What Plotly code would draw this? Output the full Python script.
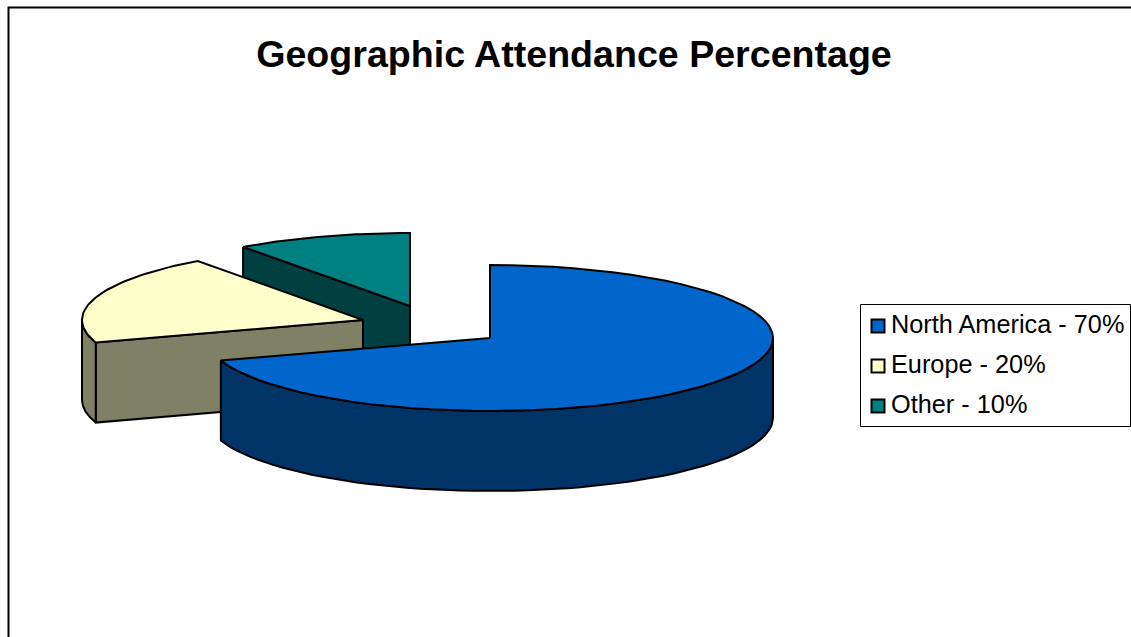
import numpy as np
import plotly.graph_objects as go

# Data
categories = ["North America", "Europe", "Other"]
percentages = [70, 20, 10]
top_colors = ["#0066CC", "#FFFFCC", "#008080"]
wall_colors = ["#003366", "#808066", "#004040"]

# Pie projection (in page pixels, which are the axis units)
centers = [(490, 338), (363, 320), (410, 306)]
radii_x = [283, 281, 284]
RY, DEPTH = 73, 80
W, H = 1131, 637


def rim(i, t0, t1, dy=0, n=60):
    cx, cy = centers[i]
    t = np.radians(np.linspace(t0, t1, n))
    return cx + radii_x[i] * np.sin(t), cy - RY * np.cos(t) + dy


fig = go.Figure()


def poly(xs, ys, color):
    fig.add_trace(go.Scatter(
        x=list(xs), y=list(ys), mode="lines", fill="toself", fillcolor=color,
        line=dict(color="black", width=2, shape="linear"), hoverinfo="skip", showlegend=False))


# slice angle ranges, clockwise from 12 o'clock
edges = np.concatenate([[0], np.cumsum(percentages)]) * 3.6
spans = [(edges[i], edges[i + 1]) for i in range(len(percentages))]

# back to front: Other, Europe, North America
for i in [2, 1, 0]:
    cx, cy = centers[i]
    t0, t1 = spans[i]
    # flat radial wall, for the edge of the slice that faces the viewer
    if i != 0:
        ex, ey = rim(i, t0, t0, n=1)
        poly([ex[0], cx, cx, ex[0], ex[0]],
             [ey[0], cy, cy + DEPTH, ey[0] + DEPTH, ey[0]], wall_colors[i])
    # outer wall, only the part of the rim on the near side
    a, b = max(t0, 90), min(t1, 270)
    if a < b:
        xt, yt = rim(i, a, b)
        xb, yb = rim(i, b, a, dy=DEPTH)
        poly(np.r_[xt, xb, xt[0]], np.r_[yt, yb, yt[0]], wall_colors[i])
    # top face
    xt, yt = rim(i, t0, t1)
    poly(np.r_[cx, xt, cx], np.r_[cy, yt, cy], top_colors[i])

# Legend
legend_x = 878
legend_text_x = 891
legend_y = [326, 366, 406]
fig.add_trace(go.Scatter(
    x=[legend_x] * 3, y=legend_y, mode="markers",
    marker=dict(symbol="square", size=13, color=top_colors, line=dict(color="black", width=2)),
    hoverinfo="skip", showlegend=False, cliponaxis=False))
fig.add_trace(go.Scatter(
    x=[legend_text_x] * 3, y=[v + 1 for v in legend_y], mode="text",
    text=[f"{c} - {p}%" for c, p in zip(categories, percentages)],
    textposition="middle right",
    textfont=dict(family="Liberation Sans", size=25.3, color="black"),
    hoverinfo="skip", showlegend=False, cliponaxis=False))

fig.update_layout(
    width=W, height=H, autosize=False,
    margin=dict(l=0, r=0, t=0, b=0),
    paper_bgcolor="white", plot_bgcolor="white", showlegend=False,
    title=dict(text="<b>Geographic Attendance Percentage</b>", x=574 / W, xanchor="center",
               y=1 - 54 / H, yanchor="middle",
               font=dict(family="Liberation Sans", size=37.6, color="black")),
    xaxis=dict(range=[0, W], visible=False, fixedrange=True),
    yaxis=dict(range=[H, 0], visible=False, fixedrange=True),
    shapes=[
        dict(type="path", path=f"M 8.5 {H} L 8.5 7.5 L {W} 7.5", xref="x", yref="y",
             line=dict(color="black", width=2), layer="below"),
        dict(type="rect", x0=860.5, y0=304.5, x1=1130.5, y1=426.5, xref="x", yref="y",
             line=dict(color="black", width=1), fillcolor="white", layer="below"),
    ],
)

fig.write_html("out.html", post_script="document.body.style.margin='0';document.body.style.overflow='hidden';",
               config={"displayModeBar": False})
